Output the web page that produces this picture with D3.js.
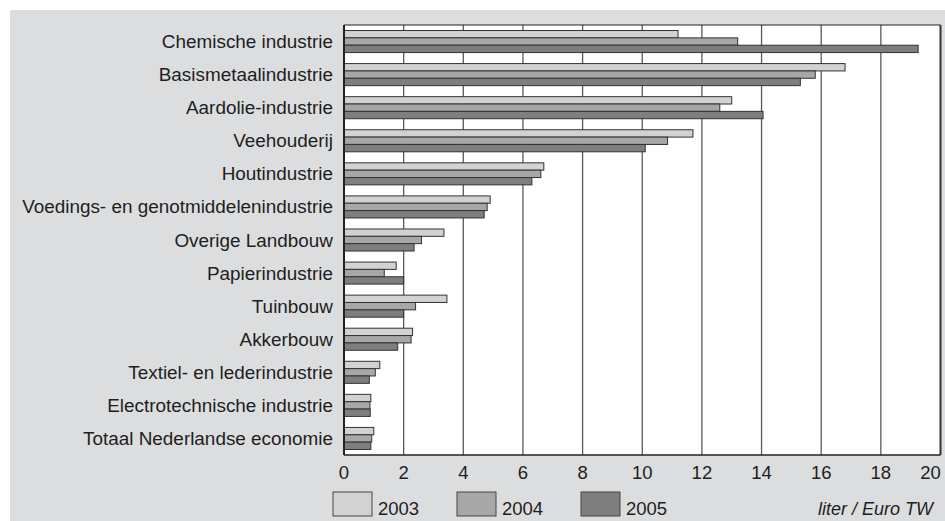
<!DOCTYPE html>
<html>
<head>
<meta charset="utf-8">
<script src="https://cdn.jsdelivr.net/npm/d3@7"></script>
<style>
  body { margin: 0; background: #fff; }
  text { font-family: "Liberation Sans", Arial, sans-serif; fill: #1e1e1e; }
</style>
</head>
<body>
<div id="chart"></div>
<script>
// categories, top to bottom
var categories = ["Chemische industrie", "Basismetaalindustrie", "Aardolie-industrie",
  "Veehouderij", "Houtindustrie", "Voedings- en genotmiddelenindustrie", "Overige Landbouw",
  "Papierindustrie", "Tuinbouw", "Akkerbouw", "Textiel- en lederindustrie",
  "Electrotechnische industrie", "Totaal Nederlandse economie"];

var years = ["2003", "2004", "2005"];

// liter / Euro TW
var values2003 = [11.2, 16.8, 13.0, 11.7, 6.7, 4.9, 3.35, 1.75, 3.45, 2.3, 1.2, 0.9, 1.0];
var values2004 = [13.2, 15.8, 12.6, 10.85, 6.6, 4.8, 2.6, 1.35, 2.4, 2.25, 1.05, 0.87, 0.93];
var values2005 = [19.25, 15.3, 14.05, 10.1, 6.3, 4.7, 2.35, 2.0, 2.0, 1.8, 0.85, 0.88, 0.9];

var xTicks = [0, 2, 4, 6, 8, 10, 12, 14, 16, 18, 20];
var unitLabel = "liter / Euro TW";

var colors = ["#d2d2d2", "#a7a7a7", "#7e7e7e"];

var data = categories.map(function (c, i) {
  return { cat: c, vals: [values2003[i], values2004[i], values2005[i]] };
});

var W = 945, H = 521;
var margin = { top: 25, left: 344, right: 4, bottom: 66 };
var width = W - margin.left - margin.right,
    height = H - margin.top - margin.bottom;

var svg = d3.select("#chart").append("svg")
    .attr("width", W)
    .attr("height", H);

// grey panel
svg.append("rect")
    .attr("x", 10).attr("y", 10)
    .attr("width", W - 10).attr("height", H - 10)
    .attr("fill", "#dcdddf");

var g = svg.append("g")
    .attr("transform", "translate(" + margin.left + "," + margin.top + ")");

var x = d3.scaleLinear().domain([0, 20]).range([0, width - 0.5]);

var y = d3.scaleBand()
    .domain(categories)
    .range([0, height])
    .paddingInner(1 / 3)
    .paddingOuter(1 / 6);

var y1 = d3.scaleBand().domain(years).range([0, y.bandwidth()]);

// plot area
g.append("rect")
    .attr("width", x(20)).attr("height", height)
    .attr("fill", "#fff");

// gridlines
g.selectAll(".grid")
    .data(xTicks.filter(function (d) { return d > 0 && d < 20; }))
    .enter().append("line")
    .attr("class", "grid")
    .attr("x1", function (d) { return x(d); })
    .attr("x2", function (d) { return x(d); })
    .attr("y1", 0).attr("y2", height)
    .attr("stroke", "#5a5a5a")
    .attr("stroke-width", 1.3);

// bars
var groups = g.selectAll(".cat")
    .data(data)
    .enter().append("g")
    .attr("class", "cat")
    .attr("transform", function (d) { return "translate(0," + y(d.cat) + ")"; });

groups.selectAll("rect")
    .data(function (d) { return d.vals; })
    .enter().append("rect")
    .attr("x", 0)
    .attr("y", function (d, i) { return y1(years[i]); })
    .attr("width", function (d) { return x(d); })
    .attr("height", y1.bandwidth())
    .attr("fill", function (d, i) { return colors[i]; })
    .attr("stroke", "#333")
    .attr("stroke-width", 1);

// frame
g.append("line").attr("x1", 0).attr("x2", x(20)).attr("y1", 0).attr("y2", 0)
    .attr("stroke", "#222").attr("stroke-width", 1.2);
g.append("line").attr("x1", 0).attr("x2", x(20)).attr("y1", height).attr("y2", height)
    .attr("stroke", "#222").attr("stroke-width", 1.5);
g.append("line").attr("x1", 0).attr("x2", 0).attr("y1", 0).attr("y2", height)
    .attr("stroke", "#222").attr("stroke-width", 2);
g.append("line").attr("x1", x(20)).attr("x2", x(20)).attr("y1", 0).attr("y2", height)
    .attr("stroke", "#333").attr("stroke-width", 2);

// x tick labels
g.selectAll(".xlab")
    .data(xTicks)
    .enter().append("text")
    .attr("class", "xlab")
    .attr("x", function (d) { return x(d) + (d === 20 ? -10 : 0); })
    .attr("y", height + 24)
    .attr("text-anchor", "middle")
    .style("font-size", "18.5px")
    .text(function (d) { return d; });

// category labels
g.selectAll(".ylab")
    .data(categories)
    .enter().append("text")
    .attr("class", "ylab")
    .attr("x", -11)
    .attr("y", function (d) { return y(d) + y.bandwidth() / 2 + 6.5; })
    .attr("text-anchor", "end")
    .style("font-size", "18.9px")
    .text(function (d) { return d; });

// legend
var legend = svg.selectAll(".legend")
    .data(years)
    .enter().append("g")
    .attr("class", "legend")
    .attr("transform", function (d, i) { return "translate(" + (333 + i * 124) + ",492)"; });

legend.append("rect")
    .attr("width", 39).attr("height", 24)
    .attr("fill", function (d, i) { return colors[i]; })
    .attr("stroke", "#444").attr("stroke-width", 1);

legend.append("text")
    .attr("x", 45).attr("y", 23)
    .style("font-size", "18.5px")
    .text(function (d) { return d; });

svg.append("text")
    .attr("x", 933).attr("y", 515)
    .attr("text-anchor", "end")
    .style("font-size", "18px")
    .style("font-style", "italic")
    .text(unitLabel);
</script>
</body>
</html>
